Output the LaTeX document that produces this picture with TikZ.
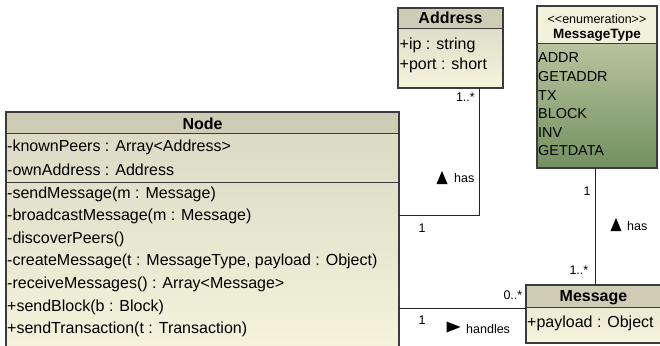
\documentclass[tikz,border=0pt]{standalone}
\usepackage{fontspec}
\setmainfont{Liberation Sans}
\definecolor{hdr}{HTML}{CFCCB6}
\definecolor{bodyTop}{HTML}{D9D8C3}
\definecolor{bodyBot}{HTML}{F6F4DC}
\definecolor{enumHdr}{HTML}{F1F0DB}
\definecolor{enumTop}{HTML}{CCD3B0}
\definecolor{enumBot}{HTML}{72905F}
\definecolor{edge}{HTML}{3C3C3C}
\begin{document}
\begin{tikzpicture}[x=1pt,y=-1pt,
  box/.style={draw=edge, line width=1.2pt, anchor=north west, inner sep=0pt, outer sep=0pt},
  sep/.style={draw=edge, line width=1pt},
  conn/.style={draw=black!85, line width=0.9pt},
  ttl/.style={anchor=base, inner sep=0pt, font=\fontsize{16}{18}\selectfont\bfseries},
  row/.style={anchor=base west, inner sep=0pt, font=\fontsize{16}{18}\selectfont},
  erow/.style={anchor=base west, inner sep=0pt, font=\fontsize{14.4}{16}\selectfont},
  lbl/.style={inner sep=0pt, font=\fontsize{12.5}{14}\selectfont},
  tri/.style={fill=black, draw=none}
]
\clip (0,0) rectangle (660,345);

% class boxes
\node[box, minimum width=393pt, minimum height=250pt,
      top color=bodyTop, bottom color=bodyBot,
      path picture={\fill[hdr] (path picture bounding box.north west) rectangle ([yshift=-21pt]path picture bounding box.north east);}]
      (nodecls) at (6,112) {};
\node[box, minimum width=105pt, minimum height=80pt,
      top color=bodyTop!80!hdr, bottom color=bodyBot,
      path picture={\fill[hdr] (path picture bounding box.north west) rectangle ([yshift=-21pt]path picture bounding box.north east);}]
      (addr) at (398,8) {};
\node[box, minimum width=120pt, minimum height=162pt,
      top color=enumTop, bottom color=enumBot,
      path picture={\fill[enumHdr] (path picture bounding box.north west) rectangle ([yshift=-38pt]path picture bounding box.north east);}]
      (enum) at (537,6) {};
\node[box, minimum width=136pt, minimum height=58pt,
      top color=bodyTop!60!bodyBot, bottom color=bodyBot,
      path picture={\fill[hdr] (path picture bounding box.north west) rectangle ([yshift=-22pt]path picture bounding box.north east);}]
      (msg) at (526,285) {};

% compartment separators
\draw[sep] ([yshift=-21pt]nodecls.north west) -- ([yshift=-21pt]nodecls.north east);
\draw[sep] ([yshift=-70pt]nodecls.north west) -- ([yshift=-70pt]nodecls.north east);
\draw[sep] ([yshift=-21pt]addr.north west) -- ([yshift=-21pt]addr.north east);
\draw[sep] ([yshift=-38pt]enum.north west) -- ([yshift=-38pt]enum.north east);
\draw[sep] ([yshift=-22pt]msg.north west) -- ([yshift=-22pt]msg.north east);

% Node
\node[ttl] (nodeT) at (202.5,129) {Node};
\node[row] (n1) at (7,151.5) {-knownPeers : Array<Address>};
\node[row] (n2) at (7,175) {-ownAddress : Address};
\node[row] (n3) at (7,198) {-sendMessage(m : Message)};
\node[row] (n4) at (7,220.6) {-broadcastMessage(m : Message)};
\node[row] (n5) at (7,243.2) {-discoverPeers()};
\node[row] (n6) at (7,265.8) {-createMessage(t : MessageType, payload : Object)};
\node[row] (n7) at (7,288.4) {-receiveMessages() : Array<Message>};
\node[row] (n8) at (7,311) {+sendBlock(b : Block)};
\node[row] (n9) at (7,333.6) {+sendTransaction(t : Transaction)};

% Address
\node[ttl] (addrT) at (450.5,24) {Address};
\node[row] (a1) at (399.5,49.5) {+ip : string};
\node[row] (a2) at (399.5,69.5) {+port : short};

% MessageType
\node[lbl, anchor=base] (enumS) at (597,23.5) {<{}<enumeration>{}>};
\node[anchor=base, inner sep=0pt, font=\fontsize{13.5}{15}\selectfont\bfseries] (enumT) at (597,39) {MessageType};
\node[erow] (e1) at (538,62) {ADDR};
\node[erow] (e2) at (538,81) {GETADDR};
\node[erow] (e3) at (538,100) {TX};
\node[erow] (e4) at (538,118) {BLOCK};
\node[erow] (e5) at (538,137) {INV};
\node[erow] (e6) at (538,155) {GETDATA};

% Message
\node[ttl] (msgT) at (593.5,301.5) {Message};
\node[row] (m1) at (527,327) {+payload : Object};

% Node -- Address
\coordinate (bendA) at (479,215);
\draw[conn] (addr.south -| bendA) -- (bendA) -- (bendA -| nodecls.east);
\node[lbl, anchor=base east] (l1) at (475,101.5) {1..*};
\fill[tri] (436.5,184) -- (447.5,184) -- (442,171) -- cycle;
\node[lbl, anchor=base west] (l2) at (454,182.5) {has};
\node[lbl, anchor=base] (l3) at (422,232.5) {1};

% MessageType -- Message
\coordinate (xm) at (595,0);
\draw[conn] (enum.south -| xm) -- (msg.north -| xm);
\node[lbl, anchor=base] (l4) at (587,195.5) {1};
\fill[tri] (610.5,231) -- (621.5,231) -- (616,218) -- cycle;
\node[lbl, anchor=base west] (l5) at (627,230.5) {has};
\node[lbl, anchor=base east] (l6) at (588.5,274.5) {1..*};

% Node -- Message
\coordinate (hy) at (0,308);
\draw[conn] (nodecls.east |- hy) -- (msg.west |- hy);
\node[lbl, anchor=base east] (l7) at (522.5,299.5) {0..*};
\node[lbl, anchor=base] (l8) at (422,324.5) {1};
\fill[tri] (446.5,321.5) -- (446.5,332.5) -- (460.5,327) -- cycle;
\node[lbl, anchor=base west] (l9) at (466,333.5) {handles};
\end{tikzpicture}
\end{document}
